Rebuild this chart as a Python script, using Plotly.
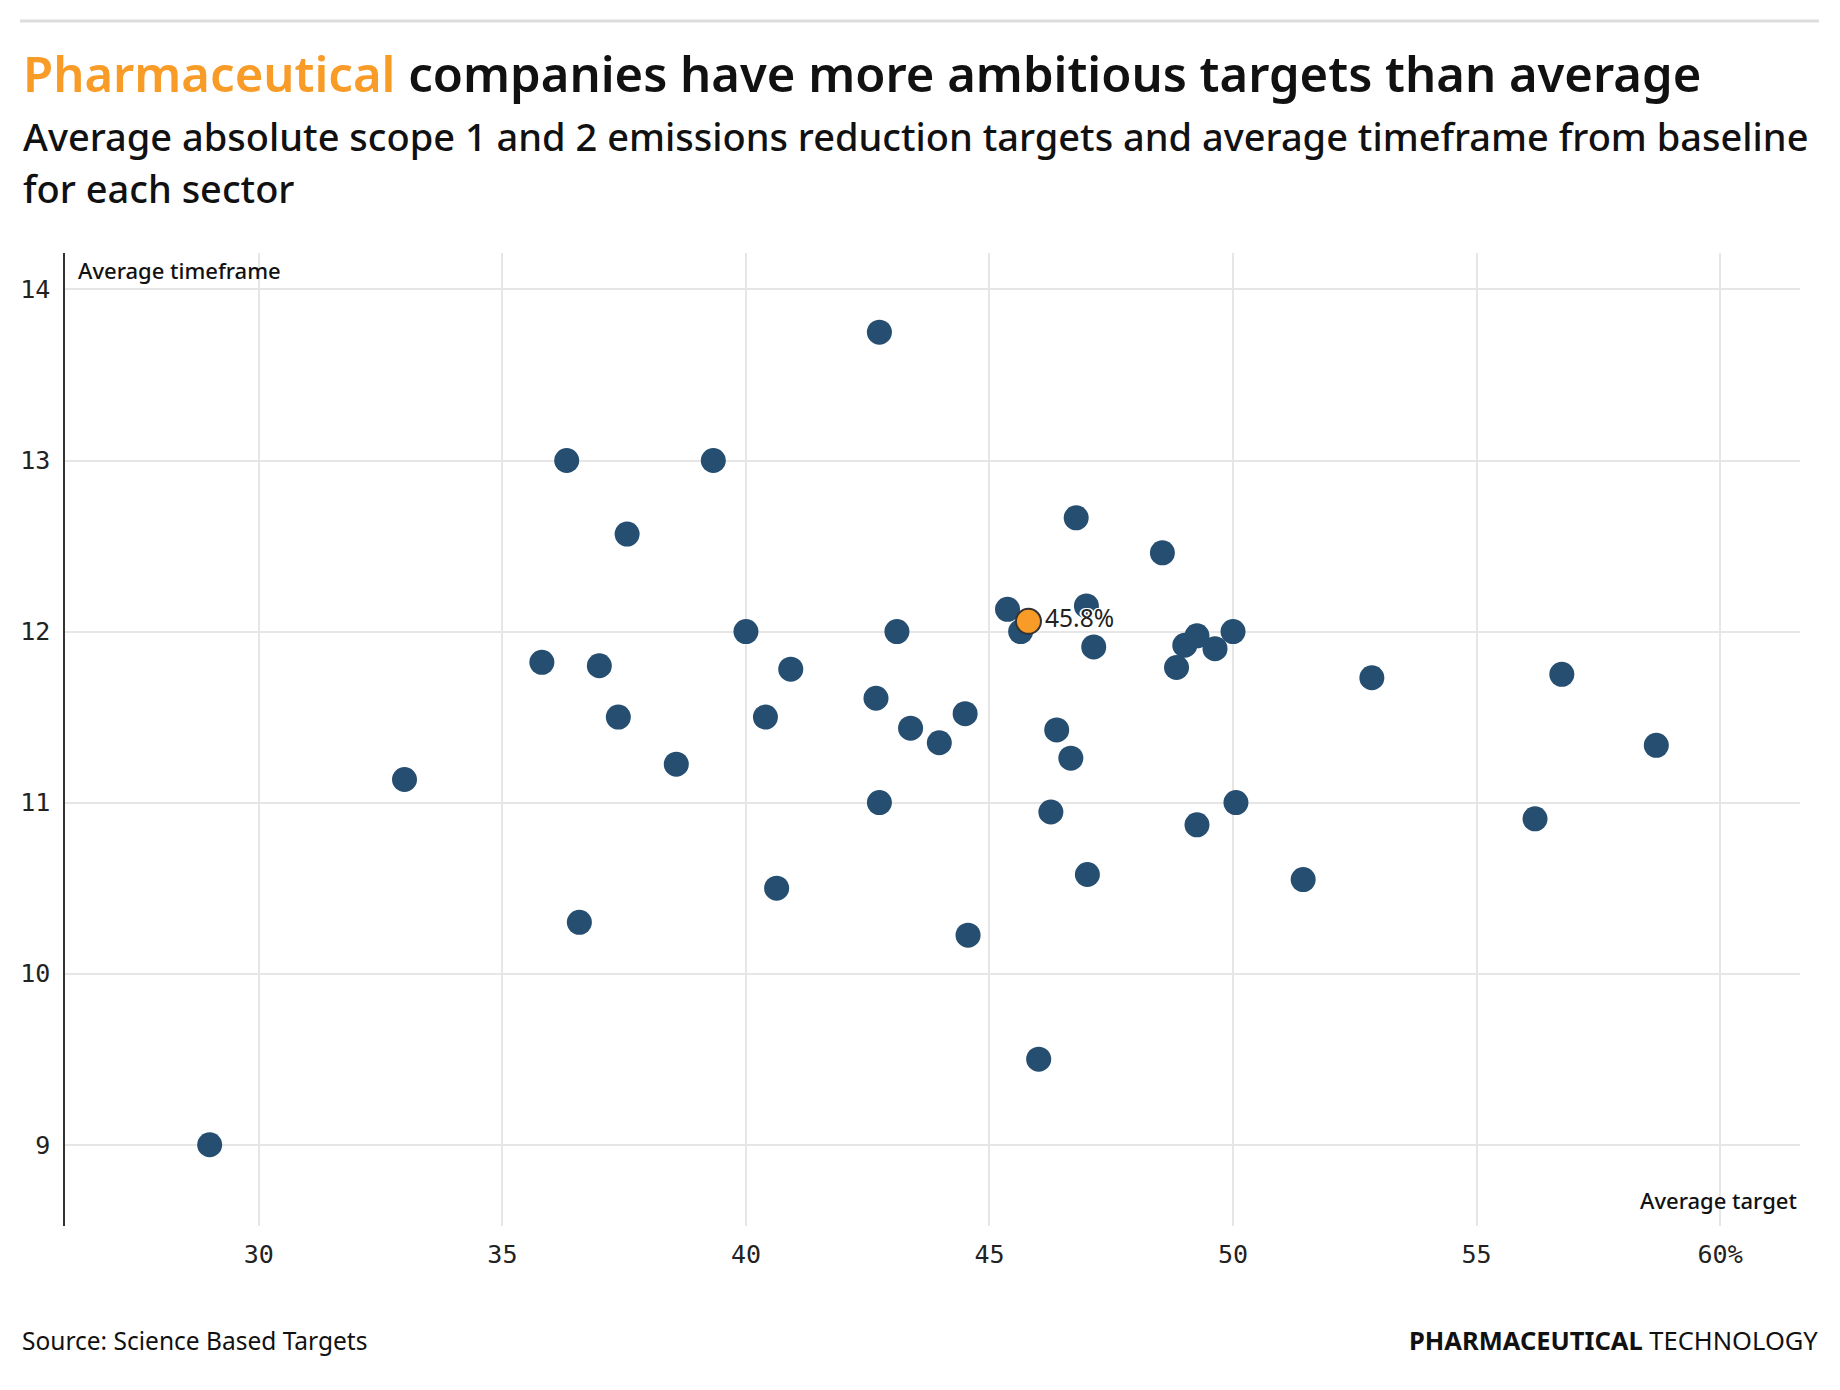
import plotly.graph_objects as go

# ---- data ----
avg_target = [42.74, 36.32, 39.33, 37.56, 46.78, 48.55, 45.37, 46.99, 45.64, 47.14,
              40.0, 43.10, 49.01, 49.26, 50.0, 49.63, 48.84, 35.81, 36.99, 40.92,
              52.85, 56.75, 37.38, 40.40, 42.67, 44.50, 43.38, 43.97, 46.38, 46.67,
              38.57, 32.99, 58.69, 42.74, 46.26, 50.06, 49.26, 56.20, 47.01, 51.44,
              40.63, 36.58, 44.56, 46.01, 28.99]
avg_timeframe = [13.75, 13.0, 13.0, 12.57, 12.665, 12.46, 12.13, 12.15, 12.0, 11.91,
                 12.0, 12.0, 11.92, 11.975, 12.0, 11.90, 11.79, 11.82, 11.80, 11.78,
                 11.73, 11.75, 11.50, 11.50, 11.61, 11.52, 11.435, 11.35, 11.425, 11.26,
                 11.225, 11.135, 11.335, 11.0, 10.945, 11.0, 10.87, 10.905, 10.58, 10.55,
                 10.50, 10.30, 10.225, 9.50, 9.0]
pharma_target = [45.8]
pharma_timeframe = [12.06]
pharma_label = ["45.8%"]

x_tickvals = [30, 35, 40, 45, 50, 55, 60]
x_ticktext = ["30", "35", "40", "45", "50", "55", "60%"]
y_tickvals = [9, 10, 11, 12, 13, 14]
y_ticktext = ["9", "10", "11", "12", "13", "14"]

title_hl = "Pharmaceutical"
title_rest = " companies have more ambitious targets than average"
subtitle_1 = "Average absolute scope 1 and 2 emissions reduction targets and average timeframe from baseline"
subtitle_2 = "for each sector"
y_label = "Average timeframe"
x_label = "Average target"
source = "Source: Science Based Targets"

# ---- style ----
BLUE = "#264e70"
ORANGE = "#F89B27"
SANS = "Noto Sans"
MONO = "DejaVu Sans Mono"

W, H = 1840, 1390
L, R, T, B = 65, 1800, 253, 1226


def px(x):
    return (x - L) / (R - L)


def py(y):
    return (B - y) / (B - T)


fig = go.Figure()
fig.add_trace(go.Scatter(
    x=avg_target, y=avg_timeframe, mode="markers",
    marker=dict(size=25, color=BLUE, line=dict(width=0)),
    hoverinfo="skip", showlegend=False))
fig.add_trace(go.Scatter(
    x=pharma_target, y=pharma_timeframe, mode="markers+text",
    text=pharma_label, textposition="middle right",
    textfont=dict(family=SANS, size=24.5, color="#222",
                  shadow="1px 1px 0 #fff, -1px -1px 0 #fff, 1px -1px 0 #fff, -1px 1px 0 #fff, 2px 0 0 #fff, -2px 0 0 #fff"),
    marker=dict(size=25, color=ORANGE, line=dict(width=2, color="#333")),
    hoverinfo="skip", showlegend=False))

fig.update_layout(
    width=W, height=H,
    margin=dict(l=L, r=W - R, t=T, b=H - B, pad=0),
    paper_bgcolor="white", plot_bgcolor="white",
    xaxis=dict(range=[26.02, 61.64], tickvals=x_tickvals, ticktext=x_ticktext,
               showgrid=True, gridcolor="#e6e6e6", gridwidth=1.5,
               zeroline=False, showline=False, ticks="",
               ticklabelstandoff=11,
               tickfont=dict(family=MONO, size=25, color="#222")),
    yaxis=dict(range=[8.525, 14.213], tickvals=y_tickvals, ticktext=y_ticktext,
               showgrid=True, gridcolor="#e6e6e6", gridwidth=2,
               zeroline=False, showline=True, linecolor="#333", linewidth=1.5,
               ticks="", ticklabelstandoff=8,
               tickfont=dict(family=MONO, size=25, color="#222")),
)

annotations = [
    dict(text=f"<span style='color:{ORANGE}'>{title_hl}</span>{title_rest}",
         x=px(21), y=py(73), xanchor="left", yanchor="middle",
         font=dict(family=SANS, size=49, color="#111", weight=600)),
    dict(text=subtitle_1, x=px(21), y=py(136), xanchor="left", yanchor="middle",
         font=dict(family=SANS, size=38, color="#111", weight=500)),
    dict(text=subtitle_2, x=px(21), y=py(188), xanchor="left", yanchor="middle",
         font=dict(family=SANS, size=38, color="#111", weight=500)),
    dict(text=y_label, x=px(76), y=py(270), xanchor="left", yanchor="middle",
         font=dict(family=SANS, size=22, color="#111", weight=500)),
    dict(text=x_label, x=px(1799), y=py(1200), xanchor="right", yanchor="middle",
         font=dict(family=SANS, size=22, color="#111", weight=500)),
    dict(text=source, x=px(20), y=py(1340), xanchor="left", yanchor="middle",
         font=dict(family=SANS, size=24.5, color="#111")),
    dict(text="<b>PHARMACEUTICAL</b> TECHNOLOGY", x=px(1820), y=py(1340),
         xanchor="right", yanchor="middle",
         font=dict(family=SANS, size=25.5, color="#111")),
]
for a in annotations:
    a.update(xref="paper", yref="paper", showarrow=False)
fig.update_layout(annotations=annotations)

fig.add_shape(type="line", xref="paper", yref="paper",
              x0=px(20), x1=px(1819), y0=py(21), y1=py(21),
              line=dict(color="#dddddd", width=3))

fig.write_html("out.html", config={"displayModeBar": False},
               post_script="document.body.style.margin='0px';")
